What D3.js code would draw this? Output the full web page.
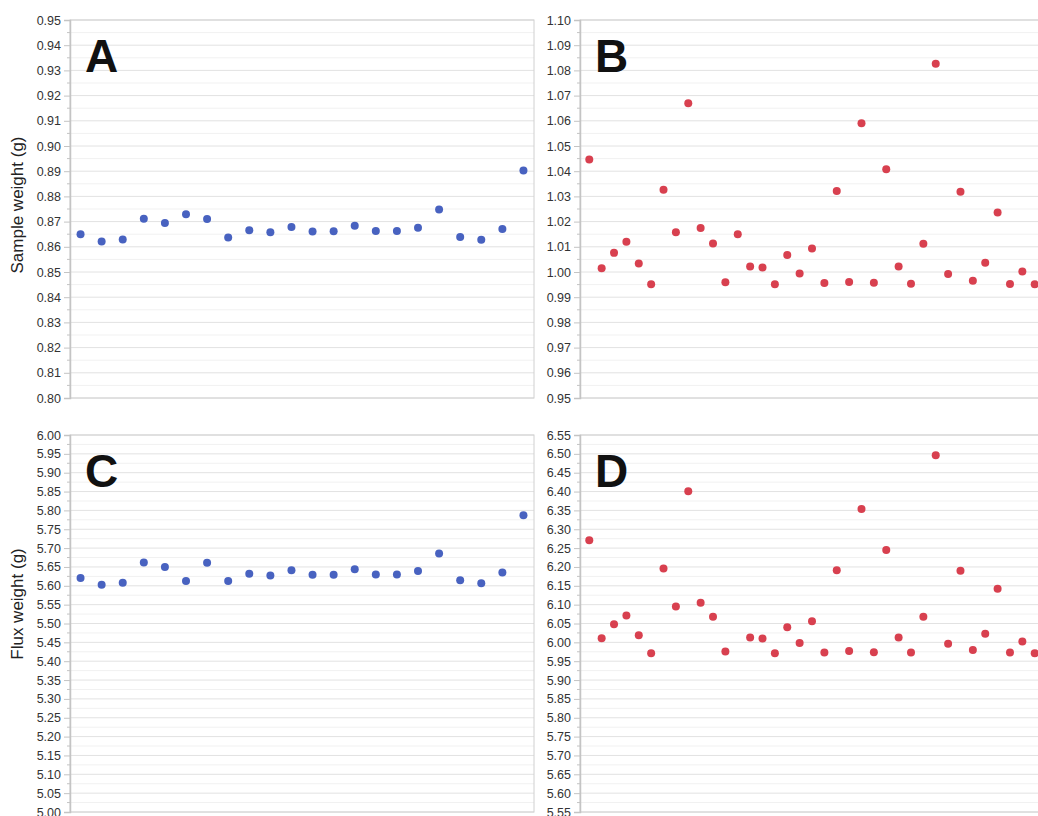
<!DOCTYPE html>
<html>
<head>
<meta charset="utf-8">
<script src="https://cdn.jsdelivr.net/npm/d3@7"></script>
<style>
  body { margin: 0; background: #fff; overflow: hidden; }
  svg { font-family: "Liberation Sans", Arial, Helvetica, sans-serif; }
</style>
</head>
<body>
<div id="chart"></div>
<script>
// Sample weights, first series (panel A)
var sampleA = [0.865, 0.8621, 0.8629, 0.8711, 0.8694, 0.8729, 0.871, 0.8637, 0.8666, 0.8658, 0.8679,
               0.8661, 0.8662, 0.8684, 0.8663, 0.8663, 0.8676, 0.8748, 0.8639, 0.8628, 0.8671, 0.8903];

// Flux weights, first series (panel C)
var fluxC = [5.621, 5.603, 5.608, 5.662, 5.650, 5.613, 5.661, 5.613, 5.632, 5.627, 5.641,
             5.629, 5.629, 5.644, 5.630, 5.630, 5.639, 5.686, 5.615, 5.607, 5.635, 5.787];

// Sample weights, second series (panel B)
var sampleB = [1.0446, 1.0015, 1.0076, 1.012, 1.0034, 0.9951, 1.0326, 1.0158, 1.067, 1.0175, 1.0113,
               0.9959, 1.015, 1.0022, 1.0018, 0.9951, 1.0067, 0.9994, 1.0093, 0.9956, 1.0321, 0.996,
               1.059, 0.9957, 1.0408, 1.0022, 0.9953, 1.0112, 1.0826, 0.9992, 1.0318, 0.9965, 1.0037,
               1.0236, 0.9952, 1.0002, 0.9951];

// Flux weights, second series (panel D); one sample has no point
var fluxD = [6.271, 6.011, 6.048, 6.071, 6.019, 5.971, 6.196, 6.095, 6.401, 6.105, 6.068,
             5.976, null, 6.013, 6.010, 5.971, 6.040, 5.998, 6.056, 5.973, 6.191, 5.977,
             6.354, 5.974, 6.245, 6.013, 5.973, 6.068, 6.496, 5.996, 6.190, 5.980, 6.023,
             6.142, 5.973, 6.002, 5.971];

// y-axis ranges and tick steps
var yDomainA = [0.80, 0.95], yDomainB = [0.95, 1.10];
var yDomainC = [5.00, 6.00], yDomainD = [5.55, 6.55];
var yTitles = ["Sample weight (g)", "Flux weight (g)"];

var blue = "#4862c0", red = "#d8404f";

var svg = d3.select("#chart")
  .append("svg")
  .attr("width", 1038)
  .attr("height", 816);

var panels = [
  {letter: "A", data: sampleA, yDom: yDomainA, step: 0.01, color: blue,
   left: 70, right: 534, top: 20, bottom: 398, xDom: [0.5, sampleA.length + 0.5]},
  {letter: "B", data: sampleB, yDom: yDomainB, step: 0.01, color: red,
   left: 580, right: 1044, top: 20, bottom: 398, xDom: [0.25, sampleB.length + 0.75]},
  {letter: "C", data: fluxC, yDom: yDomainC, step: 0.05, color: blue,
   left: 70, right: 534, top: 435, bottom: 812, xDom: [0.5, fluxC.length + 0.5]},
  {letter: "D", data: fluxD, yDom: yDomainD, step: 0.05, color: red,
   left: 580, right: 1044, top: 435, bottom: 812, xDom: [0.25, fluxD.length + 0.75]}
];

panels.forEach(function(p) {
  var x = d3.scaleLinear().domain(p.xDom).range([p.left, p.right]);
  var y = d3.scaleLinear().domain(p.yDom).range([p.bottom, p.top]);

  var n = Math.round((p.yDom[1] - p.yDom[0]) / p.step);
  var major = d3.range(n + 1).map(function(i) { return p.yDom[0] + i * p.step; });
  var minor = d3.range(n).map(function(i) { return p.yDom[0] + (i + 0.5) * p.step; });

  var g = svg.append("g");

  // minor grid
  g.selectAll(".minor").data(minor).enter().append("line")
    .attr("x1", p.left).attr("x2", p.right)
    .attr("y1", function(d) { return y(d); }).attr("y2", function(d) { return y(d); })
    .attr("stroke", "#f1f1f1").attr("stroke-width", 1);

  // major grid
  g.selectAll(".major").data(major).enter().append("line")
    .attr("x1", p.left).attr("x2", p.right)
    .attr("y1", function(d) { return y(d); }).attr("y2", function(d) { return y(d); })
    .attr("stroke", "#e2e2e2").attr("stroke-width", 1);

  // frame
  g.append("rect")
    .attr("x", p.left).attr("y", p.top)
    .attr("width", p.right - p.left).attr("height", p.bottom - p.top)
    .attr("fill", "none").attr("stroke", "#d0d0d0").attr("stroke-width", 1);

  // y axis with major ticks
  var yAxis = d3.axisLeft(y)
    .tickValues(major)
    .tickSize(6)
    .tickPadding(3)
    .tickFormat(d3.format(".2f"));

  var ax = g.append("g")
    .attr("transform", "translate(" + p.left + ",0)")
    .call(yAxis);
  ax.select(".domain").attr("stroke", "#c4c4c4").attr("stroke-width", 1.5);
  ax.selectAll(".tick line").attr("stroke", "#c4c4c4");
  ax.selectAll(".tick text").attr("fill", "#333").style("font-size", "12.5px");

  // minor ticks
  g.selectAll(".mtick").data(minor).enter().append("line")
    .attr("x1", p.left - 3).attr("x2", p.left)
    .attr("y1", function(d) { return y(d); }).attr("y2", function(d) { return y(d); })
    .attr("stroke", "#c4c4c4");

  // points
  var pts = p.data.map(function(v, i) { return {i: i + 1, v: v}; })
    .filter(function(d) { return d.v !== null; });
  g.selectAll("circle").data(pts).enter().append("circle")
    .attr("cx", function(d) { return x(d.i); })
    .attr("cy", function(d) { return y(d.v); })
    .attr("r", 4)
    .attr("fill", p.color);

  // panel letter
  g.append("text")
    .attr("x", p.left + 15)
    .attr("y", p.top + 52)
    .attr("font-size", "46px")
    .attr("font-weight", "bold")
    .attr("fill", "#111")
    .text(p.letter);
});

// y-axis titles
svg.append("text")
  .attr("transform", "translate(23,205) rotate(-90)")
  .style("text-anchor", "middle")
  .style("font-size", "17px")
  .attr("fill", "#222")
  .text(yTitles[0]);

svg.append("text")
  .attr("transform", "translate(23,604) rotate(-90)")
  .style("text-anchor", "middle")
  .style("font-size", "17px")
  .attr("fill", "#222")
  .text(yTitles[1]);
</script>
</body>
</html>
